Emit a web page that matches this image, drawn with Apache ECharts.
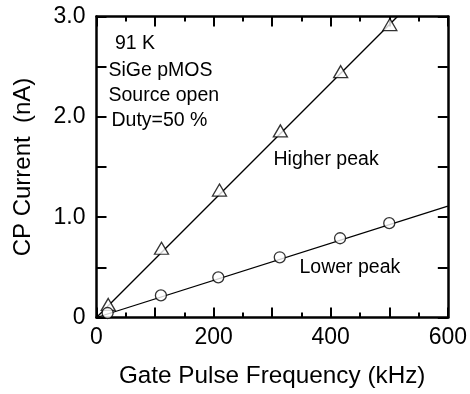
<!DOCTYPE html>
<html>
<head>
<meta charset="utf-8">
<script src="https://cdn.jsdelivr.net/npm/echarts@6/dist/echarts.min.js"></script>
<style>
html,body{margin:0;padding:0;background:#fff;}
#main{width:470px;height:394px;}
</style>
</head>
<body>
<div id="main"></div>
<script>
// Data
var freqHigh = [20, 111, 210, 314, 417, 501];
var currHigh = [0.13, 0.69, 1.27, 1.86, 2.45, 2.92];
var freqLow = [19, 110, 208, 313, 416, 500];
var currLow = [0.045, 0.22, 0.40, 0.60, 0.79, 0.94];
var fitHighX = [0, 514];
var fitHighY = [0, 3.0];
var fitLowX = [0, 600];
var fitLowY = [0, 1.11];
var xTickLabels = ['0', '200', '400', '600'];
var yTickLabels = ['0', '1.0', '2.0', '3.0'];
var notes = ['91 K', 'SiGe pMOS', 'Source open', 'Duty=50 %'];
var seriesNames = ['Higher peak', 'Lower peak'];

function zip(a, b) { return a.map(function (v, i) { return [v, b[i]]; }); }

var FONT = 'Liberation Sans';
var chart = echarts.init(document.getElementById('main'), null, {renderer: 'canvas'});

function xLabelFmt(v) {
  var idx = xTickLabels.indexOf(String(Math.round(v)));
  return idx >= 0 ? xTickLabels[idx] : '';
}
function yLabelFmt(v) {
  var r = Math.round(v * 10) / 10;
  if (Math.abs(r - Math.round(r)) > 1e-6) return '';
  return yTickLabels[Math.round(r)] || '';
}

var axisLine = {show: true, onZero: false, lineStyle: {color: '#000', width: 2.5}};

var option = {
  animation: false,
  backgroundColor: '#fff',
  grid: {left: 96.5, right: 20.3, top: 16.5, bottom: 76.5, containLabel: false},
  xAxis: [{
    type: 'value', min: 0, max: 600, interval: 100, position: 'bottom',
    name: 'Gate Pulse Frequency (kHz)', nameLocation: 'middle', nameGap: 47,
    nameTextStyle: {fontFamily: FONT, fontSize: 24.3, color: '#000'},
    axisLine: axisLine,
    axisTick: {show: true, inside: true, length: 10, lineStyle: {color: '#000', width: 2}},
    minorTick: {show: true, splitNumber: 2, length: 5, lineStyle: {color: '#000', width: 2}},
    axisLabel: {show: true, formatter: xLabelFmt, fontFamily: FONT, fontSize: 23, color: '#000', margin: 9},
    splitLine: {show: false}
  }, {
    type: 'value', min: 0, max: 600, interval: 100, position: 'top',
    axisLine: axisLine,
    axisTick: {show: true, inside: true, length: 10, lineStyle: {color: '#000', width: 2}},
    minorTick: {show: true, splitNumber: 2, length: 5, lineStyle: {color: '#000', width: 2}},
    axisLabel: {show: false},
    splitLine: {show: false}
  }],
  yAxis: [{
    type: 'value', min: 0, max: 3.0, interval: 0.5, position: 'left',
    name: 'CP Current  (nA)', nameLocation: 'middle', nameGap: 61,
    nameTextStyle: {fontFamily: FONT, fontSize: 24, color: '#000'},
    axisLine: axisLine,
    axisTick: {show: true, inside: true, length: 10, lineStyle: {color: '#000', width: 2}},
    axisLabel: {show: true, formatter: yLabelFmt, fontFamily: FONT, fontSize: 23, color: '#000', margin: 11},
    splitLine: {show: false}
  }, {
    type: 'value', min: 0, max: 3.0, interval: 0.5, position: 'right',
    axisLine: axisLine,
    axisTick: {show: true, inside: true, length: 10, lineStyle: {color: '#000', width: 2}},
    axisLabel: {show: false},
    splitLine: {show: false}
  }],
  series: [{
    name: seriesNames[0] + ' fit', type: 'line', data: zip(fitHighX, fitHighY),
    showSymbol: false, symbol: 'none', lineStyle: {color: '#000', width: 1.3}, z: 2
  }, {
    name: seriesNames[1] + ' fit', type: 'line', data: zip(fitLowX, fitLowY),
    showSymbol: false, symbol: 'none', lineStyle: {color: '#000', width: 1.3}, z: 2
  }, {
    name: seriesNames[0], type: 'scatter', data: zip(freqHigh, currHigh),
    symbol: 'triangle', symbolSize: [14, 12],
    itemStyle: {color: '#fff', borderColor: '#000', borderWidth: 1.3}, z: 3
  }, {
    name: seriesNames[1], type: 'scatter', data: zip(freqLow, currLow),
    symbol: 'circle', symbolSize: 11,
    itemStyle: {color: '#fff', borderColor: '#000', borderWidth: 1.3}, z: 3
  }],
  graphic: [
    {type: 'text', x: 115, y: 43.5, style: {text: notes[0], font: '19.5px "Liberation Sans"', fill: '#000', textVerticalAlign: 'middle'}},
    {type: 'text', x: 108.5, y: 71, style: {text: notes[1], font: '19.5px "Liberation Sans"', fill: '#000', textVerticalAlign: 'middle'}},
    {type: 'text', x: 108.5, y: 96, style: {text: notes[2], font: '19.5px "Liberation Sans"', fill: '#000', textVerticalAlign: 'middle'}},
    {type: 'text', x: 111.5, y: 121, style: {text: notes[3], font: '19.5px "Liberation Sans"', fill: '#000', textVerticalAlign: 'middle'}},
    {type: 'text', x: 273.5, y: 160, style: {text: seriesNames[0], font: '19.5px "Liberation Sans"', fill: '#000', textVerticalAlign: 'middle'}},
    {type: 'text', x: 299.5, y: 268, style: {text: seriesNames[1], font: '19.5px "Liberation Sans"', fill: '#000', textVerticalAlign: 'middle'}}
  ]
};
chart.setOption(option);
</script>
</body>
</html>
